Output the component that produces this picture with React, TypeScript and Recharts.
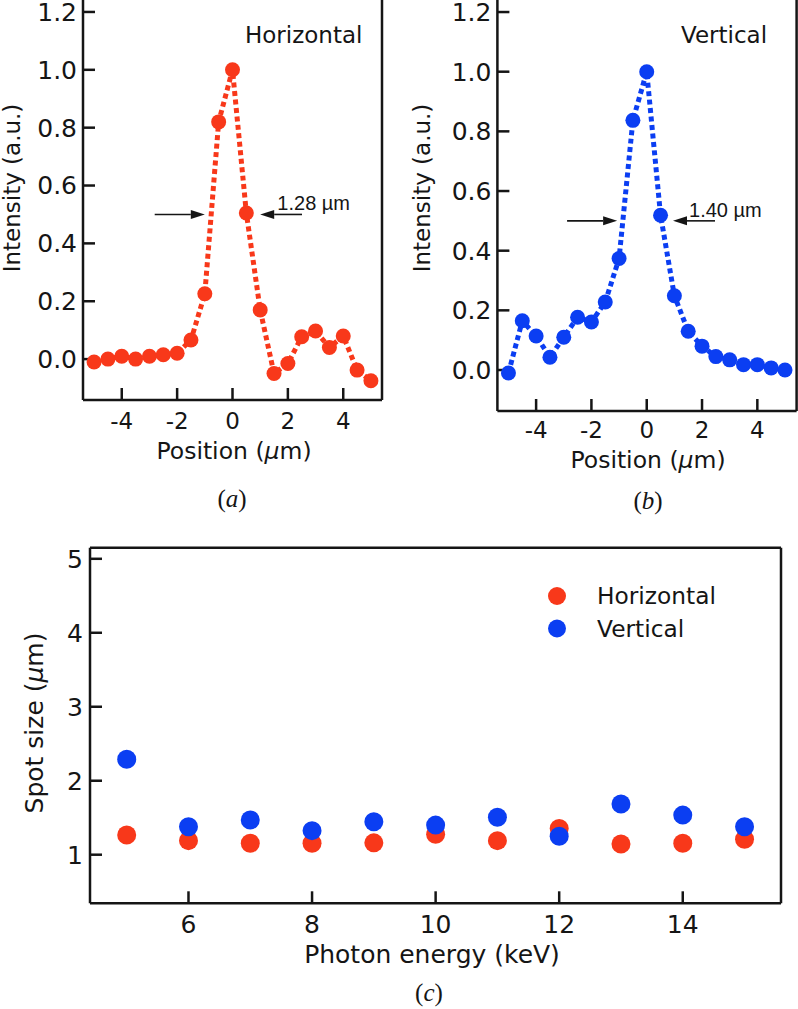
import React from 'react';
import { LineChart, Line, XAxis, YAxis, ScatterChart, Scatter, ReferenceLine, ReferenceDot, Legend } from 'recharts';

// beam profiles, x in µm
const positions = [-5, -4.5, -4, -3.5, -3, -2.5, -2, -1.5, -1, -0.5, 0, 0.5, 1, 1.5, 2, 2.5, 3, 3.5, 4, 4.5, 5];
const horizontalProfile = [-0.01, 0.0, 0.01, 0.0, 0.01, 0.015, 0.02, 0.066, 0.226, 0.82, 1.0, 0.505, 0.17, -0.05, -0.015, 0.077, 0.097, 0.04, 0.08, -0.038, -0.075];
const verticalProfile = [-0.01, 0.165, 0.114, 0.043, 0.11, 0.177, 0.161, 0.228, 0.374, 0.837, 1.0, 0.519, 0.249, 0.13, 0.08, 0.045, 0.034, 0.018, 0.018, 0.007, 0.0];
const positionTicks = [-4, -2, 0, 2, 4];
const intensityTicks = [0, 0.2, 0.4, 0.6, 0.8, 1.0, 1.2];

// spot size vs photon energy
const energies = [5, 6, 7, 8, 9, 10, 11, 12, 13, 14, 15];
const horizontalSpot = [1.266, 1.19, 1.155, 1.155, 1.16, 1.275, 1.19, 1.355, 1.145, 1.155, 1.21];
const verticalSpot = [2.29, 1.378, 1.47, 1.325, 1.446, 1.4, 1.505, 1.25, 1.685, 1.535, 1.378];
const energyTicks = [6, 8, 10, 12, 14];
const spotTicks = [1, 2, 3, 4, 5];

const RED = '#f8381a';
const BLUE = '#0b3ef2';
const INK = '#151515';
const FONT = 'DejaVu Sans';

const arrowShape = (props: any) => {
  const { x1, y1, x2, y2 } = props;
  const dir = Math.sign(x2 - x1);
  const head = 14;
  return (
    <g>
      <line x1={x1} y1={y1} x2={x2 - dir * head} y2={y2} stroke={INK} strokeWidth={1.6} />
      <polygon points={`${x2},${y2} ${x2 - dir * head},${y2 - 4.5} ${x2 - dir * head},${y2 + 4.5}`} fill={INK} />
    </g>
  );
};

const textShape = (text: string) => (props: any) => (
  <text x={props.cx} y={props.cy} fontFamily="Liberation Sans" fontSize={20} fill={INK}>
    {text}
  </text>
);

type PanelProps = {
  style: React.CSSProperties;
  width: number;
  height: number;
  margin: { top: number; right: number; bottom: number; left: number };
  xDomain: [number, number];
  yDomain: [number, number];
  values: number[];
  color: string;
  xTickMargin: number;
  arrows: [number, number][];
  fwhm: { x: number; y: number; text: string };
};

// axes are 1px wide so they still render; margins below are reduced by 1 to compensate
function ProfilePanel(p: PanelProps) {
  const data = positions.map((x, i) => ({ x, v: p.values[i] }));
  const tickStyle = { fontSize: 25, fill: INK, fontFamily: FONT };
  return (
    <div style={{ position: 'absolute', ...p.style }}>
      <LineChart width={p.width} height={p.height} data={data} margin={p.margin}>
        <XAxis dataKey="x" type="number" domain={p.xDomain} allowDataOverflow ticks={positionTicks} interval={0}
          height={1} tickSize={-12} tickMargin={p.xTickMargin} stroke={INK} strokeWidth={2.5}
          tick={{ ...tickStyle, fontSize: 23 }} tickFormatter={(v: number) => String(v)} />
        <XAxis xAxisId="top" orientation="top" type="number" domain={p.xDomain} allowDataOverflow ticks={positionTicks}
          interval={0} height={1} tickSize={-12} tick={false} stroke={INK} strokeWidth={2.5} />
        <YAxis type="number" domain={p.yDomain} allowDataOverflow ticks={intensityTicks} interval={0} width={1}
          tickSize={-12} tickMargin={18} stroke={INK} strokeWidth={2.5} tick={tickStyle}
          tickFormatter={(v: number) => v.toFixed(1)} />
        <YAxis yAxisId="right" orientation="right" type="number" domain={p.yDomain} allowDataOverflow ticks={intensityTicks}
          interval={0} width={1} tickSize={-12} tick={false} stroke={INK} strokeWidth={2.5} />
        {p.arrows.map(([from, to], i) => (
          <ReferenceLine key={i} segment={[{ x: from, y: 0.5 }, { x: to, y: 0.5 }]} shape={arrowShape} />
        ))}
        <ReferenceDot x={p.fwhm.x} y={p.fwhm.y} r={0} shape={textShape(p.fwhm.text)} />
        <Line type="linear" dataKey="v" stroke={p.color} strokeWidth={5} strokeDasharray="5 3.5"
          dot={{ r: 7.5, fill: p.color, stroke: 'none', strokeDasharray: '' }} activeDot={false}
          isAnimationActive={false} />
      </LineChart>
    </div>
  );
}

const renderLegend = (props: any) => {
  const items = props.payload || [];
  return (
    <svg width={250} height={80}>
      {items.map((it: any, i: number) => (
        <g key={i}>
          <circle cx={17} cy={26 + i * 32.5} r={9} fill={it.color} />
          <text x={57} y={34 + i * 32.5} fontFamily={FONT} fontSize={23.3} fill={INK}>{it.value}</text>
        </g>
      ))}
    </svg>
  );
};

export default function App() {
  const hPoints = energies.map((e, i) => ({ energy: e, size: horizontalSpot[i] }));
  const vPoints = energies.map((e, i) => ({ energy: e, size: verticalSpot[i] }));
  const tickStyle = { fontSize: 25, fill: INK, fontFamily: FONT };
  const cDomainX: [number, number] = [4.406, 15.59];
  const cDomainY: [number, number] = [0.343, 5.15];

  return (
    <div style={{ position: 'absolute', left: 0, top: 0, width: 798, height: 1009, overflow: 'hidden', background: '#fff' }}>
      <ProfilePanel
        style={{ left: 0, top: -13 }}
        width={400}
        height={513}
        margin={{ top: 9, right: 17, bottom: 99, left: 82 }}
        xDomain={[-5.4, 5.4]}
        yDomain={[-0.1414, 1.2517]}
        values={horizontalProfile}
        color={RED}
        xTickMargin={25}
        arrows={[[-2.81, -1.0], [2.51, 1.0]]}
        fwhm={{ x: 1.62, y: 0.514, text: '1.28 µm' }}
      />
      <ProfilePanel
        style={{ left: 400, top: -13 }}
        width={400}
        height={524}
        margin={{ top: 9, right: 2.4, bottom: 99, left: 96.4 }}
        xDomain={[-5.4, 5.42]}
        yDomain={[-0.1374, 1.2504]}
        values={verticalProfile}
        color={BLUE}
        xTickMargin={23}
        arrows={[[-2.88, -1.07], [2.47, 0.95]]}
        fwhm={{ x: 1.53, y: 0.514, text: '1.40 µm' }}
      />

      <div style={{ position: 'absolute', left: 0, top: 530 }}>
        <ScatterChart width={798} height={420} margin={{ top: 16.7, right: 16, bottom: 45.7, left: 89 }}>
          <XAxis dataKey="energy" type="number" domain={cDomainX} allowDataOverflow ticks={energyTicks} interval={0}
            height={1} tickSize={-12} tickMargin={24} stroke={INK} strokeWidth={2.5} tick={tickStyle} />
          <XAxis xAxisId="top" orientation="top" type="number" domain={cDomainX} allowDataOverflow ticks={energyTicks}
            interval={0} height={1} tickSize={-12} tick={false} stroke={INK} strokeWidth={2.5} />
          <YAxis dataKey="size" type="number" domain={cDomainY} allowDataOverflow ticks={spotTicks} interval={0} width={1}
            tickSize={-12} tickMargin={19} stroke={INK} strokeWidth={2.5} tick={tickStyle} />
          <YAxis yAxisId="right" orientation="right" type="number" domain={cDomainY} allowDataOverflow ticks={spotTicks}
            interval={0} width={1} tickSize={-12} tick={false} stroke={INK} strokeWidth={2.5} />
          <Legend layout="horizontal" verticalAlign="middle" align="center" content={renderLegend}
            wrapperStyle={{ left: 540, top: 40, width: 250, height: 80 }} />
          <Scatter name="Horizontal" data={hPoints} fill={RED} isAnimationActive={false}
            shape={(s: any) => <circle cx={s.cx} cy={s.cy} r={9.5} fill={RED} />} />
          <Scatter name="Vertical" data={vPoints} fill={BLUE} isAnimationActive={false}
            shape={(s: any) => <circle cx={s.cx} cy={s.cy} r={9.5} fill={BLUE} />} />
        </ScatterChart>
      </div>

      <svg width={798} height={1009} style={{ position: 'absolute', left: 0, top: 0, pointerEvents: 'none' }}
        fontFamily={FONT} fill={INK}>
        <text x={245} y={43} fontSize={23}>Horizontal</text>
        <text x={681} y={43} fontSize={23}>Vertical</text>
        <text transform="translate(20,188) rotate(-90)" textAnchor="middle" fontSize={23}>Intensity (a.u.)</text>
        <text transform="translate(430,188) rotate(-90)" textAnchor="middle" fontSize={23}>Intensity (a.u.)</text>
        <text x={234} y={459} textAnchor="middle" fontSize={23.5}>Position (<tspan fontStyle="italic">µ</tspan>m)</text>
        <text x={648} y={468} textAnchor="middle" fontSize={23.5}>Position (<tspan fontStyle="italic">µ</tspan>m)</text>
        <text x={432} y={963} textAnchor="middle" fontSize={25}>Photon energy (keV)</text>
        <text transform="translate(43,723) rotate(-90)" textAnchor="middle" fontSize={25}>Spot size (<tspan fontStyle="italic">µ</tspan>m)</text>
        <g fontFamily="Liberation Serif" fontSize={25} textAnchor="middle">
          <text x={232} y={507}>(<tspan fontStyle="italic">a</tspan>)</text>
          <text x={648} y={509}>(<tspan fontStyle="italic">b</tspan>)</text>
          <text x={429} y={1001}>(<tspan fontStyle="italic">c</tspan>)</text>
        </g>
      </svg>
    </div>
  );
}
